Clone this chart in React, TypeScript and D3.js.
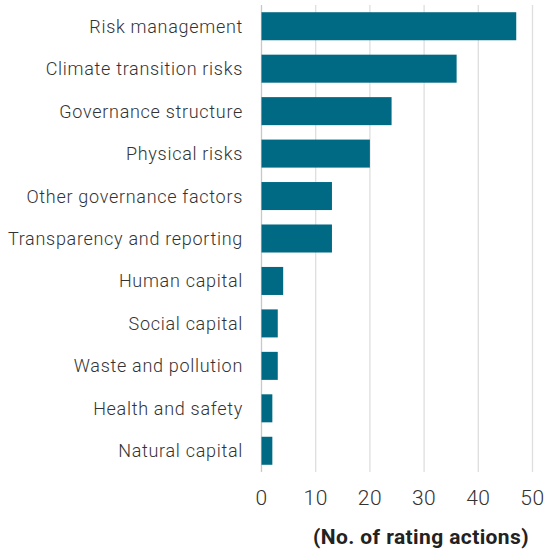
import React, { useEffect, useRef } from "react";
import * as d3 from "d3";

const categories = [
  "Risk management",
  "Climate transition risks",
  "Governance structure",
  "Physical risks",
  "Other governance factors",
  "Transparency and reporting",
  "Human capital",
  "Social capital",
  "Waste and pollution",
  "Health and safety",
  "Natural capital",
];
const values = [47, 36, 24, 20, 13, 13, 4, 3, 3, 2, 2];
const xTicks = [0, 10, 20, 30, 40, 50];
const axisTitle = "(No. of rating actions)";

const WIDTH = 545;
const HEIGHT = 550;
const BAR_COLOR = "#006a84";
const TEXT_COLOR = "#333333";
const FONT = "Roboto, 'Noto Sans', sans-serif";

const App: React.FC = () => {
  const svgRef = useRef<SVGSVGElement>(null);

  useEffect(() => {
    if (!svgRef.current) return;
    const svg = d3.select(svgRef.current);
    svg.selectAll("*").remove();

    const x = d3.scaleLinear().domain([0, 50]).range([261.5, 532.5]);
    const y = d3
      .scaleBand<string>()
      .domain(categories)
      .range([5, 472])
      .paddingInner(0.34)
      .paddingOuter(0.17);

    // vertical gridlines
    svg
      .append("g")
      .selectAll("line")
      .data(xTicks)
      .join("line")
      .attr("x1", (d) => x(d))
      .attr("x2", (d) => x(d))
      .attr("y1", 5)
      .attr("y2", 472)
      .attr("stroke", (d) => (d === 0 ? "#c8c8c8" : "#dedede"))
      .attr("stroke-width", 1.3);

    // bars
    svg
      .append("g")
      .selectAll("rect")
      .data(values)
      .join("rect")
      .attr("x", x(0))
      .attr("y", (_, i) => y(categories[i]) ?? 0)
      .attr("width", (d) => x(d) - x(0))
      .attr("height", y.bandwidth())
      .attr("fill", BAR_COLOR);

    // category labels
    svg
      .append("g")
      .selectAll("text")
      .data(categories)
      .join("text")
      .attr("x", 243)
      .attr("y", (d) => (y(d) ?? 0) + y.bandwidth() / 2)
      .attr("text-anchor", "end")
      .attr("dominant-baseline", "central")
      .attr("font-family", FONT)
      .attr("font-weight", 300)
      .attr("font-size", "18px")
      .attr("letter-spacing", "0.7px")
      .attr("fill", TEXT_COLOR)
      .text((d) => d);

    // tick labels
    svg
      .append("g")
      .selectAll("text")
      .data(xTicks)
      .join("text")
      .attr("x", (d) => x(d))
      .attr("y", 498)
      .attr("text-anchor", "middle")
      .attr("dominant-baseline", "central")
      .attr("font-family", FONT)
      .attr("font-weight", 300)
      .attr("font-size", "21px")
      .attr("letter-spacing", "0.5px")
      .attr("fill", TEXT_COLOR)
      .text((d) => d);

    // axis title
    svg
      .append("text")
      .attr("x", 529)
      .attr("y", 544)
      .attr("text-anchor", "end")
      .attr("font-family", FONT)
      .attr("font-weight", 700)
      .attr("font-size", "21px")
      .attr("letter-spacing", "0.4px")
      .attr("fill", "#222222")
      .text(axisTitle);
  }, []);

  return (
    <svg
      ref={svgRef}
      width={WIDTH}
      height={HEIGHT}
      viewBox={`0 0 ${WIDTH} ${HEIGHT}`}
      style={{ position: "absolute", left: 0, top: 0, background: "#fff" }}
    />
  );
};

export default App;
